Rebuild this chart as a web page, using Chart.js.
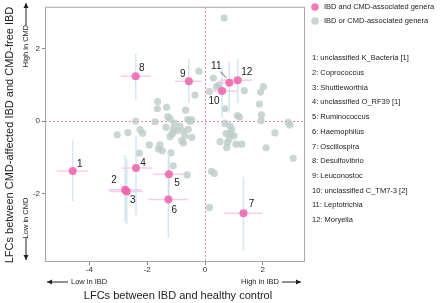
<!DOCTYPE html>
<html>
<head>
<meta charset="utf-8">
<script src="https://cdn.jsdelivr.net/npm/chart.js@4/dist/chart.umd.min.js"></script>
<style>
  html, body { margin: 0; padding: 0; background: #fff; }
  canvas { display: block; }
</style>
</head>
<body>
<canvas id="chart" width="440" height="303"></canvas>
<script>
// genera associated with both IBD and CMD (pink, numbered)
var genera = ['unclassified K_Bacteria [1]', 'Coprococcus', 'Shuttleworthia', 'unclassified O_RF39 [1]',
	'Ruminococcus', 'Haemophilus', 'Oscillospira', 'Desulfovibrio', 'Leuconostoc',
	'unclassified C_TM7-3 [2]', 'Leptotrichia', 'Moryella'];
var pinkX = [-4.58, -2.77, -2.71, -2.39, -1.25, -1.27, 1.33, -2.40, -0.56, 0.59, 0.84, 1.13];
var pinkY = [-1.38, -1.90, -1.95, -1.30, -1.47, -2.17, -2.55, 1.24, 1.10, 0.83, 1.06, 1.13];
var pinkXLow = [-5.13, -3.35, -3.30, -2.88, -1.79, -1.96, 0.66, -2.92, -1.04, 0.06, 0.50, 0.52];
var pinkXHigh = [-4.04, -2.20, -2.15, -1.84, -0.69, -0.58, 1.98, -1.88, -0.11, 1.12, 1.20, 1.62];
var pinkYLow = [-2.22, -2.80, -2.85, -2.60, -2.30, -3.22, -3.58, 0.59, 0.50, 0.09, 0.23, 0.50];
var pinkYHigh = [-0.54, -0.95, -1.05, -0.40, -0.85, -1.00, -1.54, 1.86, 1.72, 1.49, 1.63, 1.72];

// genera associated with IBD or CMD only (grey)
var greyX = [-0.21, -0.35, -0.67, -1.64, -1.65, -1.33, -2.40, -1.73, -1.29, -1.21, -0.60, -0.52, -0.46,
	-3.04, -2.67, -2.25, -2.16, -1.35, -1.07, -1.10, -0.98, -1.13, -0.87, -0.77, -0.69, -0.81, -0.58,
	-1.21, -0.46, -0.75, -1.93, -1.56, -1.61, -1.48, -1.18, -2.28, -1.10, -0.62,
	0.66, 0.29, 0.49, 0.40, 0.15, 1.36, 2.02, 1.92, 1.88, 1.95, 1.94, 0.69, 1.12, 1.19,
	2.88, 2.94, 2.42, 3.05, 2.11, 0.69, 0.87, 0.92, 0.73, 0.89, 1.00, 0.84, 0.78, 0.52,
	0.75, 1.07, 1.27, 0.22, 0.32, 0.15];
var greyY = [1.38, 0.72, 0.30, 0.54, 0.34, 0.38, 0.00, -0.02, 0.12, 0.06, 0.04, -0.01, 0.03,
	-0.38, -0.32, -0.24, -0.34, -0.17, -0.06, -0.23, -0.27, -0.35, -0.14, -0.27, -0.41, -0.54, -0.23,
	-0.43, -0.45, -0.61, -0.66, -0.66, -0.77, -0.82, -0.88, -0.89, -1.24, -1.49,
	2.85, 1.19, 1.00, 0.95, 0.82, 0.84, 0.95, 0.80, 0.47, 0.17, 0.01, 0.34, 0.15, 0.11,
	-0.04, -0.11, -0.33, -1.03, -0.74, -0.06, -0.14, -0.23, -0.34, -0.36, -0.41, -0.48, -0.59, -0.57,
	-0.73, -0.64, -0.64, -1.39, -1.45, -2.39];

var xTicks = [-4, -2, 0, 2];
var yTicks = [-2, 0, 2];

var FONT = '"Liberation Sans", Arial, sans-serif';
var PINK = 'rgba(240,96,172,0.85)';
var GREY = 'rgba(188,204,200,0.8)';

// label offsets (px) for the numbered points
var labelDx = [7, -11, 6, 7, 8, 6, 8, 6, -6, -8, -13, 9];
var labelDy = [-7, -9, 9, -5, 9, 11, -9, -8, -7, 10, -16, -8];

function toPoints(xs, ys) {
	return xs.map(function (x, i) { return { x: x, y: ys[i] }; });
}

function arrow(ctx, x1, y1, x2, y2) {
	var a = Math.atan2(y2 - y1, x2 - x1);
	ctx.beginPath();
	ctx.moveTo(x1, y1);
	ctx.lineTo(x2, y2);
	ctx.stroke();
	ctx.beginPath();
	ctx.moveTo(x2, y2);
	ctx.lineTo(x2 - 5 * Math.cos(a) + 2.5 * Math.sin(a), y2 - 5 * Math.sin(a) - 2.5 * Math.cos(a));
	ctx.lineTo(x2 - 5 * Math.cos(a) - 2.5 * Math.sin(a), y2 - 5 * Math.sin(a) + 2.5 * Math.cos(a));
	ctx.closePath();
	ctx.fill();
}

var decorations = {
	id: 'decorations',
	beforeDatasetsDraw: function (chart) {
		var ctx = chart.ctx, a = chart.chartArea;
		var xs = chart.scales.x, ys = chart.scales.y;
		ctx.save();
		ctx.strokeStyle = '#ec7fae';
		ctx.lineWidth = 1;
		ctx.setLineDash([2, 2]);
		var x0 = Math.round(xs.getPixelForValue(0)) + 0.5;
		var y0 = Math.round(ys.getPixelForValue(0)) + 0.5;
		ctx.beginPath();
		ctx.moveTo(x0, a.top); ctx.lineTo(x0, a.bottom);
		ctx.moveTo(a.left, y0); ctx.lineTo(a.right, y0);
		ctx.stroke();
		ctx.restore();
	},
	beforeDatasetDraw: function (chart, args) {
		if (args.index !== 0) return;
		var ctx = chart.ctx;
		var xs = chart.scales.x, ys = chart.scales.y;
		ctx.save();
		ctx.lineWidth = 1.5;
		for (var i = 0; i < pinkX.length; i++) {
			var px = xs.getPixelForValue(pinkX[i]);
			var py = ys.getPixelForValue(pinkY[i]);
			ctx.strokeStyle = 'rgba(200,225,238,0.8)';
			ctx.beginPath();
			ctx.moveTo(px, ys.getPixelForValue(pinkYLow[i]));
			ctx.lineTo(px, ys.getPixelForValue(pinkYHigh[i]));
			ctx.stroke();
			ctx.strokeStyle = 'rgba(244,196,230,0.85)';
			ctx.beginPath();
			ctx.moveTo(xs.getPixelForValue(pinkXLow[i]), py);
			ctx.lineTo(xs.getPixelForValue(pinkXHigh[i]), py);
			ctx.stroke();
		}
		ctx.restore();
	},
	afterDraw: function (chart) {
		var ctx = chart.ctx, a = chart.chartArea;
		var xs = chart.scales.x, ys = chart.scales.y;
		ctx.save();

		// plot frame
		ctx.strokeStyle = '#a8a8a8';
		ctx.lineWidth = 1;
		ctx.strokeRect(a.left + 0.5, a.top + 0.5, a.right - a.left - 1, a.bottom - a.top - 1);

		// numbers next to pink points
		ctx.fillStyle = '#222';
		ctx.font = '10px ' + FONT;
		ctx.textAlign = 'center';
		ctx.textBaseline = 'middle';
		for (var i = 0; i < pinkX.length; i++) {
			var px = xs.getPixelForValue(pinkX[i]);
			var py = ys.getPixelForValue(pinkY[i]);
			ctx.fillText(String(i + 1), px + labelDx[i], py + labelDy[i]);
		}
		// leader line for 11
		var lx = xs.getPixelForValue(pinkX[10]), ly = ys.getPixelForValue(pinkY[10]);
		ctx.strokeStyle = '#333';
		ctx.lineWidth = 0.8;
		ctx.beginPath();
		ctx.moveTo(lx - 9, ly - 11);
		ctx.lineTo(lx - 3, ly - 5);
		ctx.stroke();

		// axis titles
		ctx.fillStyle = '#222';
		ctx.font = '11px ' + FONT;
		ctx.fillText('LFCs between IBD and healthy control', 178, 296);
		ctx.save();
		ctx.translate(10, 135);
		ctx.rotate(-Math.PI / 2);
		ctx.fillText('LFCs between CMD-affected IBD and CMD-free IBD', 0, 0);
		ctx.restore();

		// direction hints
		ctx.font = '7.5px ' + FONT;
		ctx.fillStyle = '#222';
		ctx.strokeStyle = '#222';
		ctx.lineWidth = 1;
		ctx.textAlign = 'left';
		ctx.fillText('Low in IBD', 71, 282);
		arrow(ctx, 68, 282, 47, 282);
		ctx.textAlign = 'right';
		ctx.fillText('High in IBD', 279, 282);
		arrow(ctx, 282, 282, 301, 282);

		ctx.save();
		ctx.translate(26, 0);
		ctx.rotate(-Math.PI / 2);
		ctx.textAlign = 'center';
		ctx.fillText('High in CMD', -46, 0);
		ctx.fillText('Low in CMD', -218, 0);
		ctx.restore();
		arrow(ctx, 26, 25, 26, 3);
		arrow(ctx, 26, 238, 26, 260);

		// legend
		ctx.textAlign = 'left';
		ctx.fillStyle = PINK;
		ctx.beginPath(); ctx.arc(315, 7, 3.8, 0, Math.PI * 2); ctx.fill();
		ctx.fillStyle = GREY;
		ctx.beginPath(); ctx.arc(315, 21, 3.8, 0, Math.PI * 2); ctx.fill();
		ctx.fillStyle = '#222';
		ctx.fillText('IBD and CMD-associated genera', 324, 7);
		ctx.fillText('IBD or CMD-associated genera', 324, 21);
		for (var j = 0; j < genera.length; j++) {
			ctx.fillText((j + 1) + ': ' + genera[j], 312, 58.3 + j * 14.7);
		}
		ctx.restore();
	}
};

new Chart(document.getElementById('chart'), {
	type: 'scatter',
	data: {
		datasets: [
			{
				label: 'IBD and CMD-associated genera',
				data: toPoints(pinkX, pinkY),
				backgroundColor: PINK,
				borderWidth: 0,
				pointRadius: 4
			},
			{
				label: 'IBD or CMD-associated genera',
				data: toPoints(greyX, greyY),
				backgroundColor: GREY,
				borderWidth: 0,
				pointRadius: 3.6
			}
		]
	},
	options: {
		responsive: false,
		animation: false,
		devicePixelRatio: 1,
		layout: { padding: { left: 0, right: 135, top: 2, bottom: 0 } },
		plugins: {
			legend: { display: false },
			tooltip: { enabled: false }
		},
		scales: {
			x: {
				type: 'linear',
				min: -5.54,
				max: 3.46,
				afterBuildTicks: function (s) { s.ticks = xTicks.map(function (v) { return { value: v }; }); },
				afterFit: function (s) { s.height = 41; },
				border: { display: false },
				grid: { drawOnChartArea: false, tickLength: 3, color: '#888' },
				ticks: { font: { size: 8, family: FONT }, color: '#333', padding: 0, maxRotation: 0 }
			},
			y: {
				type: 'linear',
				min: -3.9,
				max: 3.16,
				afterBuildTicks: function (s) { s.ticks = yTicks.map(function (v) { return { value: v }; }); },
				afterFit: function (s) { s.width = 45; },
				border: { display: false },
				grid: { drawOnChartArea: false, tickLength: 3, color: '#888' },
				ticks: { font: { size: 8, family: FONT }, color: '#333', padding: 2 }
			}
		}
	},
	plugins: [decorations]
});
</script>
</body>
</html>
